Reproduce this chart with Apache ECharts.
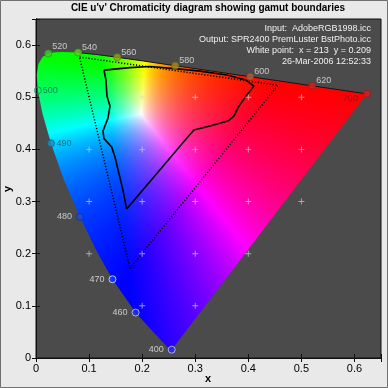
<!DOCTYPE html>
<html>
<head>
<meta charset="utf-8">
<script src="https://cdn.jsdelivr.net/npm/echarts@6/dist/echarts.min.js"></script>
<style>
html,body{margin:0;padding:0;background:#e9e9e9;}
#c{width:388px;height:388px;}
</style>
</head>
<body>
<div id="c"></div>
<script>
// ---------- data ----------
// spectral locus (wavelength nm, u', v')
const locusWl = [400,410,420,430,440,450,460,470,475,480,485,490,495,500,505,510,515,520,525,530,540,550,560,570,580,590,600,610,620,630,640,650,660,680,700];
const locusU  = [0.2557,0.2545,0.2522,0.2461,0.2347,0.2161,0.1877,0.1441,0.1147,0.0828,0.0521,0.0282,0.0119,0.0035,0.0014,0.0046,0.0123,0.0231,0.0360,0.0501,0.0792,0.1127,0.1531,0.2026,0.2623,0.3315,0.4035,0.4692,0.5203,0.5565,0.5830,0.6005,0.6109,0.6199,0.6234];
const locusV  = [0.0159,0.0159,0.0169,0.0226,0.0350,0.0549,0.0871,0.1510,0.2044,0.2708,0.3427,0.4117,0.4698,0.5131,0.5432,0.5638,0.5770,0.5837,0.5861,0.5868,0.5856,0.5821,0.5766,0.5694,0.5604,0.5501,0.5393,0.5296,0.5219,0.5165,0.5125,0.5099,0.5084,0.5070,0.5065];
// labelled wavelengths
const markWl = [400,460,470,480,490,500,520,540,560,580,600,620,700];
// output gamut (solid) u', v'
const outU = [0.1281,0.1770,0.2147,0.2618,0.3089,0.3597,0.3955,0.4105,0.3974,0.3823,0.3729,0.3616,0.3277,0.2976,0.2844,0.1708,0.1638,0.1488,0.1426,0.1281,0.1262,0.1356,0.1394,0.1337,0.1318];
const outV = [0.5520,0.5568,0.5588,0.5549,0.5501,0.5425,0.5329,0.5214,0.5041,0.4830,0.4639,0.4543,0.4447,0.4370,0.4217,0.2856,0.3220,0.3853,0.4045,0.4207,0.4351,0.4600,0.4830,0.5022,0.5329];
// input gamut (dotted) u', v'
const inU = [0.082,0.456,0.177];
const inV = [0.577,0.523,0.172];
// grid "+" marks
const plusU = [0.2,0.3,0.4,0.5, 0.1,0.2,0.3,0.4,0.5, 0.1,0.2,0.3,0.4,0.5, 0.1,0.2,0.3,0.4, 0.2,0.3];
const plusV = [0.5,0.5,0.5,0.5, 0.4,0.4,0.4,0.4,0.4, 0.3,0.3,0.3,0.3,0.3, 0.2,0.2,0.2,0.2, 0.1,0.1];
// texts
const titleText = "CIE u'v' Chromaticity diagram showing gamut boundaries";
const infoLines = ["Input:  AdobeRGB1998.icc","Output: SPR2400 PremLuster BstPhoto.icc","White point:  x = 213  y = 0.209","26-Mar-2006 12:52:33"];
const xName = 'x', yName = 'y';
const AX_MAX = 0.65;

// ---------- styles ----------
const FONT = 'Liberation Sans, Arial, sans-serif';
const markStyle = {
  400:{fill:'#2a2af0',stroke:'#c8c8ff',pos:'left',dist:4,dy:0,lc:'#e6e6e6'},
  460:{fill:'#2030e0',stroke:'#c0c8ff',pos:'left',dist:4,dy:0,lc:'#e6e6e6'},
  470:{fill:'#1038ff',stroke:'#e0e8ff',pos:'left',dist:4,dy:0,lc:'#e6e6e6'},
  480:{fill:'#1e4ed8',stroke:'#0b2ea0',pos:'left',dist:4,dy:0,lc:'#e6e6e6'},
  490:{fill:'#1a90c0',stroke:'#106080',pos:'right',dist:1.5,dy:0,lc:'#1e4f66'},
  500:{fill:'rgba(0,0,0,0)',stroke:'#1a8a5a',pos:'right',dist:1,dy:0,lc:'#1d6060'},
  520:{fill:'#3ccc2a',stroke:'#2aa020',pos:'right',dist:0,dy:-7,lc:'#e6e6e6'},
  540:{fill:'#5ad01a',stroke:'#3aa010',pos:'right',dist:0,dy:-5,lc:'#e6e6e6'},
  560:{fill:'#8fa21a',stroke:'#6c7c10',pos:'right',dist:0,dy:-5,lc:'#e6e6e6'},
  580:{fill:'#a88a1e',stroke:'#806410',pos:'right',dist:0,dy:-5,lc:'#e6e6e6'},
  600:{fill:'#b8603a',stroke:'#8a4020',pos:'right',dist:0,dy:-5,lc:'#e6e6e6'},
  620:{fill:'#c82828',stroke:'#a01818',pos:'right',dist:0,dy:-5,lc:'#e6e6e6'},
  700:{fill:'#d82020',stroke:'#a81010',pos:'left',dist:5,dy:5,lc:'#7a1020'}
};

// ---------- helpers ----------
function uvToRgb(u, v) {
  const d = 6*u - 16*v + 12;
  const x = 9*u/d, y = 4*v/d;
  if (y <= 0) return [0,0,0];
  const X = x/y, Y = 1, Z = (1-x-y)/y;
  let r = 3.2406*X - 1.5372*Y - 0.4986*Z;
  let g = -0.9689*X + 1.8758*Y + 0.0415*Z;
  let b = 0.0557*X - 0.2040*Y + 1.0570*Z;
  r = Math.max(r,0); g = Math.max(g,0); b = Math.max(b,0);
  const m = Math.max(r,g,b) || 1;
  return [r/m*255, g/m*255, b/m*255];
}
const pairs = (us, vs) => us.map((u,i) => [u, vs[i]]);
const closed = (us, vs) => { const p = pairs(us, vs); p.push(p[0]); return p; };

let fillCache = null;
function renderFill(params, api) {
  const cs = params.coordSys;
  const W = Math.round(cs.width), H = Math.round(cs.height);
  if (!fillCache) {
    const o = api.coord([0,0]), e = api.coord([AX_MAX, AX_MAX]);
    const c1 = document.createElement('canvas'); c1.width = W; c1.height = H;
    const x1 = c1.getContext('2d'); const img = x1.createImageData(W, H);
    for (let py = 0; py < H; py++) {
      const v = (cs.y + py + 0.5 - o[1]) / (e[1] - o[1]) * AX_MAX;
      for (let px = 0; px < W; px++) {
        const u = (cs.x + px + 0.5 - o[0]) / (e[0] - o[0]) * AX_MAX;
        const c = uvToRgb(u, v); const k = (py*W + px)*4;
        img.data[k] = c[0]; img.data[k+1] = c[1]; img.data[k+2] = c[2]; img.data[k+3] = 255;
      }
    }
    x1.putImageData(img, 0, 0);
    const c2 = document.createElement('canvas'); c2.width = W; c2.height = H;
    const x2 = c2.getContext('2d');
    x2.beginPath();
    locusU.forEach((u, i) => {
      const p = api.coord([u, locusV[i]]);
      if (i === 0) x2.moveTo(p[0]-cs.x, p[1]-cs.y); else x2.lineTo(p[0]-cs.x, p[1]-cs.y);
    });
    x2.closePath(); x2.clip(); x2.drawImage(c1, 0, 0);
    fillCache = c2;
  }
  return {type:'image', style:{image: fillCache, x: cs.x, y: cs.y, width: W, height: H}};
}

const markData = markWl.map(w => {
  const i = locusWl.indexOf(w); const s = markStyle[w];
  return {
    value: [locusU[i], locusV[i]],
    itemStyle: {color: s.fill, borderColor: s.stroke, borderWidth: 1},
    label: {show: true, formatter: String(w), position: s.pos, distance: s.dist, offset: [0, s.dy], color: s.lc, fontSize: 9, fontFamily: FONT}
  };
});
const i540 = locusWl.indexOf(540);
const topEdge = pairs(locusU.slice(i540), locusV.slice(i540));

const tickFmt = v => (Math.abs(v*10 - Math.round(v*10)) > 1e-6) ? '' : String(Math.round(v*10)/10);
const axisCommon = {
  type:'value', min:0, max:AX_MAX, interval:0.1,
  splitLine:{show:false},
  axisLine:{show:true, lineStyle:{color:'#111', width:1}},
  axisTick:{show:true, inside:true, length:4, lineStyle:{color:'#111'}},
};

const chart = echarts.init(document.getElementById('c'), null, {renderer:'canvas'});
chart.setOption({
  animation:false,
  backgroundColor:'#e9e9e9',
  grid:{left:36, right:7, top:19, bottom:30, containLabel:false, outerBoundsMode:'none', show:true, backgroundColor:'#4b4b4b', borderColor:'#111', borderWidth:1},
  xAxis:[
    Object.assign({}, axisCommon, {position:'bottom',
      axisLabel:{fontSize:11, color:'#000', margin:5, fontFamily:FONT, formatter:tickFmt}}),
    Object.assign({}, axisCommon, {position:'top', axisLabel:{show:false}})
  ],
  yAxis:[
    Object.assign({}, axisCommon, {position:'left',
      axisLabel:{fontSize:11, color:'#000', margin:5, fontFamily:FONT, formatter:tickFmt}}),
    Object.assign({}, axisCommon, {position:'right', axisLabel:{show:false}})
  ],
  series:[
    {type:'custom', renderItem:renderFill, data:[[0,0]], encode:{x:0,y:1}, z:1, silent:true},
    {type:'line', data:topEdge, showSymbol:false, lineStyle:{color:'#151515', width:1}, z:3, silent:true},
    {type:'line', data:closed(inU, inV), showSymbol:false, lineStyle:{color:'#000', width:1.5, type:[1.2,1.8]}, z:4, silent:true},
    {type:'line', data:closed(outU, outV), showSymbol:false, lineStyle:{color:'#000', width:1.6}, z:5, silent:true},
    {type:'scatter', data:pairs(plusU, plusV), symbol:'path://M4.2,0H5.8V4.2H10V5.8H5.8V10H4.2V5.8H0V4.2H4.2Z', symbolSize:6,
      itemStyle:{color:'rgba(215,215,215,0.85)'}, z:6, silent:true},
    {type:'scatter', data:markData, symbol:'circle', symbolSize:7, z:7, silent:true}
  ],
  graphic:[
    {type:'rect', shape:{x:0.5,y:0.5,width:387,height:387}, style:{fill:null, stroke:'#707070', lineWidth:1}, z:100},
    {type:'text', x:208, y:8, style:{text:titleText, textAlign:'center', textVerticalAlign:'middle', fontSize:10, fontWeight:'bold', fill:'#000', fontFamily:FONT}},
    {type:'text', x:208, y:379, style:{text:xName, textAlign:'center', textVerticalAlign:'middle', fontSize:11, fontWeight:'bold', fill:'#000', fontFamily:FONT}},
    {type:'text', x:8, y:189, rotation:Math.PI/2, style:{text:yName, textAlign:'center', textVerticalAlign:'middle', fontSize:11, fontWeight:'bold', fill:'#000', fontFamily:FONT}}
  ].concat(infoLines.map((t, i) => ({type:'text', x:371, y:29 + i*10.7, z:50,
      style:{text:t, textAlign:'right', textVerticalAlign:'middle', fontSize:9, fill:'#f0f0f0', fontFamily:FONT}})))
});
</script>
</body>
</html>
